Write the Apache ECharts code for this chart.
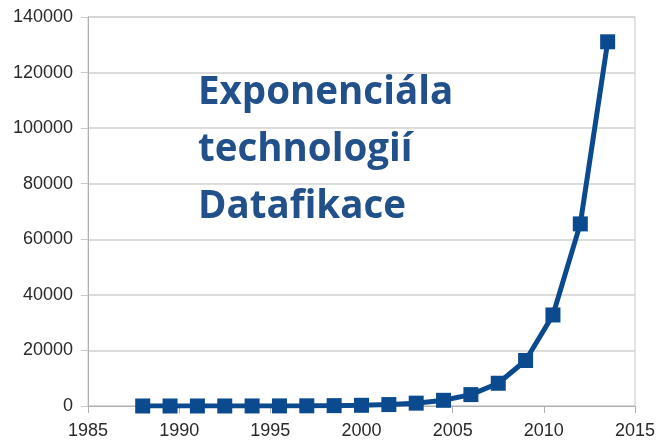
<!DOCTYPE html>
<html><head><meta charset="utf-8">
<script src="https://cdn.jsdelivr.net/npm/echarts@6/dist/echarts.min.js"></script>
<style>html,body{margin:0;padding:0;background:#fff}#c{width:659px;height:441px}</style>
</head><body><div id="c"></div>
<script>
const years = [1988, 1989.5, 1991, 1992.5, 1994, 1995.5, 1997, 1998.5, 2000, 2001.5, 2003, 2004.5, 2006, 2007.5, 2009, 2010.5, 2012, 2013.5];
const values = [1, 2, 4, 8, 16, 32, 64, 128, 256, 512, 1024, 2048, 4096, 8192, 16384, 32768, 65536, 131072];
const xTicks = [1985, 1990, 1995, 2000, 2005, 2010, 2015];
const yTicks = [0, 20000, 40000, 60000, 80000, 100000, 120000, 140000];
const titleLines = ['Exponenciála', 'technologií', 'Datafikace'];

const chart = echarts.init(document.getElementById('c'), null, {renderer: 'canvas'});
chart.setOption({
  animation: false,
  backgroundColor: '#fff',
  title: {
    text: titleLines.join('\n'),
    left: 193, top: 60,
    textStyle: {fontFamily: 'Open Sans', fontWeight: 'bold', fontSize: 38.5, lineHeight: 57, color: '#21508a'}
  },
  grid: {left: 88, right: 24, top: 17, bottom: 35, show: true, borderColor: '#c8c8c8', borderWidth: 1},
  xAxis: {
    type: 'value', min: xTicks[0], max: xTicks[xTicks.length - 1], interval: 5,
    axisLine: {show: true, onZero: false, lineStyle: {color: '#b0b0b0'}},
    axisTick: {show: true, length: 7, lineStyle: {color: '#b0b0b0'}},
    splitLine: {show: false},
    axisLabel: {margin: 16, fontFamily: 'Liberation Sans', fontSize: 18, color: '#2a2a2a', formatter: v => String(v)}
  },
  yAxis: {
    type: 'value', min: yTicks[0], max: yTicks[yTicks.length - 1], interval: 20000,
    axisLine: {show: true, lineStyle: {color: '#b0b0b0'}},
    axisTick: {show: true, length: 7, lineStyle: {color: '#c8c8c8'}},
    splitLine: {show: true, lineStyle: {color: '#d0d0d0', width: 1.5}},
    axisLabel: {margin: 15, fontFamily: 'Liberation Sans', fontSize: 18, color: '#2a2a2a', formatter: v => String(v)}
  },
  series: [{
    type: 'line',
    data: years.map((y, i) => [y, values[i]]),
    symbol: 'rect', symbolSize: 15,
    lineStyle: {color: '#0b4a8e', width: 5},
    itemStyle: {color: '#0b4a8e'}
  }]
});
</script></body></html>
